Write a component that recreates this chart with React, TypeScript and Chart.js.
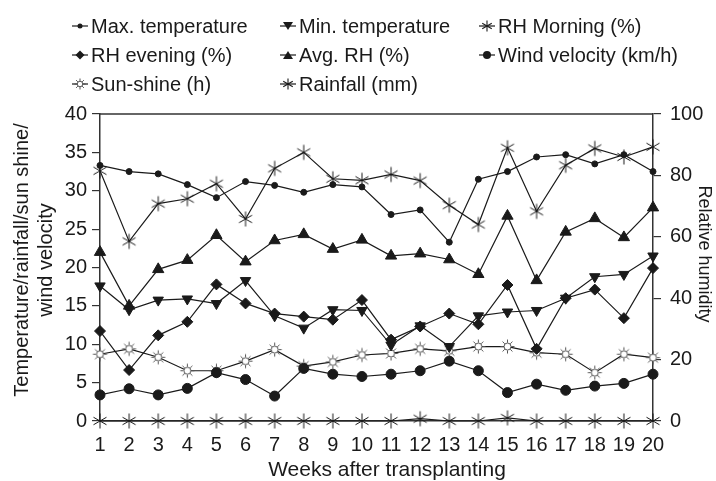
import { useEffect, useRef } from "react";
import { Chart, registerables } from "chart.js";

Chart.register(...registerables);

const weeks = ["1", "2", "3", "4", "5", "6", "7", "8", "9", "10", "11", "12", "13", "14", "15", "16", "17", "18", "19", "20"];

const maxTemp = [33.3, 32.5, 32.2, 30.8, 29.1, 31.2, 30.7, 29.8, 30.8, 30.5, 26.9, 27.5, 23.3, 31.5, 32.5, 34.4, 34.7, 33.5, 34.7, 32.5];
const minTemp = [17.6, 14.5, 15.75, 15.9, 15.3, 18.3, 13.7, 12.1, 14.5, 14.4, 9.9, 12.4, 9.7, 13.7, 14.2, 14.4, 16.0, 18.8, 19.1, 21.5];
const rhMorning = [81.5, 58.5, 70.8, 72.4, 77.3, 65.8, 82.3, 87.5, 78.9, 78.4, 80.3, 78.3, 70.3, 64.0, 89.0, 68.3, 83.3, 88.8, 86.0, 89.3];
const rhEvening = [29.3, 16.6, 27.9, 32.3, 44.5, 38.3, 35.0, 34.0, 33.0, 39.4, 26.5, 30.8, 35.0, 31.5, 44.3, 23.5, 40.0, 42.8, 33.5, 49.8];
const avgRH = [55.0, 37.5, 49.4, 52.4, 60.5, 51.9, 58.8, 60.8, 56.0, 59.0, 53.8, 54.5, 52.6, 47.8, 66.8, 45.8, 61.6, 66.0, 59.8, 69.5];
const windVelocity = [3.4, 4.2, 3.4, 4.25, 6.3, 5.4, 3.25, 6.85, 6.1, 5.8, 6.1, 6.55, 7.8, 6.55, 3.7, 4.8, 4.0, 4.55, 4.9, 6.1];
const sunShine = [8.7, 9.4, 8.3, 6.55, 6.55, 7.8, 9.3, 7.15, 7.7, 8.6, 8.8, 9.4, 9.15, 9.7, 9.7, 8.9, 8.7, 6.3, 8.7, 8.25];
const rainfall = [0, 0, 0, 0, 0, 0, 0, 0, 0, 0, 0, 0.3, 0, 0, 0.4, 0, 0, 0, 0, 0];

const leftAxisTitle = ["Temperature/rainfall/sun shine/", "wind velocity"];
const rightAxisTitle = "Relative humidity";
const xAxisTitle = "Weeks after transplanting";

const INK = "#1a1a1a";
const FONT = "'Liberation Sans', Arial, Helvetica, sans-serif";

function makeAsterisk(r: number, lw: number): HTMLCanvasElement {
  const size = Math.ceil(r * 2 + 3);
  const c = document.createElement("canvas");
  c.width = size;
  c.height = size;
  const ctx = c.getContext("2d")!;
  ctx.strokeStyle = INK;
  ctx.lineWidth = lw;
  const m = size / 2;
  for (let k = 0; k < 3; k++) {
    const a = Math.PI / 2 + (k * Math.PI) / 3;
    ctx.beginPath();
    ctx.moveTo(m + r * Math.cos(a), m + r * Math.sin(a));
    ctx.lineTo(m - r * Math.cos(a), m - r * Math.sin(a));
    ctx.stroke();
  }
  return c;
}

function makeSun(r: number): HTMLCanvasElement {
  const size = Math.ceil(r * 2 + 3);
  const c = document.createElement("canvas");
  c.width = size;
  c.height = size;
  const ctx = c.getContext("2d")!;
  const m = size / 2;
  ctx.strokeStyle = "#555";
  ctx.lineWidth = 1;
  for (let k = 0; k < 8; k++) {
    const a = (k * Math.PI) / 4;
    ctx.beginPath();
    ctx.moveTo(m + r * 0.55 * Math.cos(a), m + r * 0.55 * Math.sin(a));
    ctx.lineTo(m + r * Math.cos(a), m + r * Math.sin(a));
    ctx.stroke();
  }
  ctx.beginPath();
  ctx.arc(m, m, r * 0.5, 0, Math.PI * 2);
  ctx.fillStyle = "#fff";
  ctx.fill();
  ctx.stroke();
  return c;
}

function drawLegendMarker(ctx: CanvasRenderingContext2D, kind: string, x: number, y: number, imgs: Record<string, HTMLCanvasElement>) {
  ctx.save();
  ctx.strokeStyle = INK;
  ctx.fillStyle = INK;
  ctx.lineWidth = 1.2;
  ctx.beginPath();
  ctx.moveTo(x - 8, y);
  ctx.lineTo(x + 8, y);
  ctx.stroke();
  ctx.beginPath();
  if (kind === "dot") {
    ctx.arc(x, y, 2.5, 0, Math.PI * 2);
    ctx.fill();
  } else if (kind === "circle") {
    ctx.arc(x, y, 4, 0, Math.PI * 2);
    ctx.fill();
  } else if (kind === "down") {
    ctx.moveTo(x - 5, y - 4);
    ctx.lineTo(x + 5, y - 4);
    ctx.lineTo(x, y + 4);
    ctx.closePath();
    ctx.fill();
  } else if (kind === "up") {
    ctx.moveTo(x - 5, y + 4);
    ctx.lineTo(x + 5, y + 4);
    ctx.lineTo(x, y - 4);
    ctx.closePath();
    ctx.fill();
  } else if (kind === "diamond") {
    ctx.moveTo(x, y - 4.5);
    ctx.lineTo(x + 4.5, y);
    ctx.lineTo(x, y + 4.5);
    ctx.lineTo(x - 4.5, y);
    ctx.closePath();
    ctx.fill();
  } else if (imgs[kind]) {
    const im = imgs[kind];
    ctx.drawImage(im, x - im.width / 2, y - im.height / 2);
  }
  ctx.restore();
}

export default function App() {
  const canvasRef = useRef<HTMLCanvasElement | null>(null);

  useEffect(() => {
    const canvas = canvasRef.current;
    if (!canvas) return;
    const star = makeAsterisk(7.5, 1);
    const sun = makeSun(7);
    const legendImgs: Record<string, HTMLCanvasElement> = {
      star: makeAsterisk(5.5, 1.1),
      sun: makeSun(5.5),
    };

    const legendItems = [
      { label: "Max. temperature", kind: "dot", col: 0, row: 0 },
      { label: "Min. temperature", kind: "down", col: 1, row: 0 },
      { label: "RH Morning (%)", kind: "star", col: 2, row: 0 },
      { label: "RH evening (%)", kind: "diamond", col: 0, row: 1 },
      { label: "Avg. RH (%)", kind: "up", col: 1, row: 1 },
      { label: "Wind velocity (km/h)", kind: "circle", col: 2, row: 1 },
      { label: "Sun-shine (h)", kind: "sun", col: 0, row: 2 },
      { label: "Rainfall (mm)", kind: "star", col: 1, row: 2 },
    ];
    const colX = [80, 288, 487];
    const rowY = [26, 55, 84];

    const decorPlugin = {
      id: "decor",
      afterDraw(chart: any) {
        const ctx = chart.ctx as CanvasRenderingContext2D;
        const a = chart.chartArea;
        ctx.save();
        // legend
        ctx.font = `20px ${FONT}`;
        ctx.textBaseline = "middle";
        ctx.textAlign = "left";
        legendItems.forEach((it) => {
          const x = colX[it.col];
          const y = rowY[it.row];
          drawLegendMarker(ctx, it.kind, x, y, legendImgs);
          ctx.fillStyle = INK;
          ctx.fillText(it.label, x + 11, y + 1);
        });
        // top frame line
        ctx.strokeStyle = "#333";
        ctx.lineWidth = 1.5;
        ctx.beginPath();
        ctx.moveTo(a.left, a.top);
        ctx.lineTo(a.right, a.top);
        ctx.stroke();
        // axis titles
        ctx.fillStyle = INK;
        ctx.textAlign = "center";
        ctx.textBaseline = "middle";
        ctx.font = `20px ${FONT}`;
        ctx.save();
        ctx.translate(22, 260);
        ctx.rotate(-Math.PI / 2);
        ctx.fillText(leftAxisTitle[0], 0, 0);
        ctx.restore();
        ctx.save();
        ctx.translate(46, 260);
        ctx.rotate(-Math.PI / 2);
        ctx.fillText(leftAxisTitle[1], 0, 0);
        ctx.restore();
        ctx.font = `18px ${FONT}`;
        ctx.save();
        ctx.translate(704, 254);
        ctx.rotate(Math.PI / 2);
        ctx.fillText(rightAxisTitle, 0, 0);
        ctx.restore();
        ctx.font = `21px ${FONT}`;
        ctx.fillText(xAxisTitle, 387, 470);
        ctx.restore();
      },
    };

    const common = {
      borderColor: INK,
      backgroundColor: INK,
      pointBackgroundColor: INK,
      pointBorderColor: INK,
      borderWidth: 1.2,
      pointBorderWidth: 1,
      clip: false as const,
      tension: 0,
    };

    const chart = new Chart(canvas, {
      type: "line",
      data: {
        labels: weeks,
        datasets: [
          { ...common, label: "Max. temperature", data: maxTemp, yAxisID: "y", pointStyle: "circle", pointRadius: 3 },
          { ...common, label: "Min. temperature", data: minTemp, yAxisID: "y", pointStyle: "triangle", pointRotation: 180, pointRadius: 6 },
          { ...common, label: "RH Morning (%)", data: rhMorning, yAxisID: "y1", pointStyle: star, pointRadius: 7 },
          { ...common, label: "RH evening (%)", data: rhEvening, yAxisID: "y1", pointStyle: "rectRot", pointRadius: 5.5 },
          { ...common, label: "Avg. RH (%)", data: avgRH, yAxisID: "y1", pointStyle: "triangle", pointRadius: 6.5 },
          { ...common, label: "Wind velocity (km/h)", data: windVelocity, yAxisID: "y", pointStyle: "circle", pointRadius: 5 },
          { ...common, label: "Sun-shine (h)", data: sunShine, yAxisID: "y", pointStyle: sun, pointRadius: 7 },
          { ...common, label: "Rainfall (mm)", data: rainfall, yAxisID: "y", pointStyle: star, pointRadius: 7 },
        ],
      },
      options: {
        animation: false,
        responsive: false,
        devicePixelRatio: 1,
        layout: { padding: { top: 114, left: 0, right: 0, bottom: 0 } },
        plugins: { legend: { display: false }, tooltip: { enabled: false } },
        scales: {
          x: {
            type: "category",
            offset: false,
            afterFit: (axis: any) => {
              axis.height = 60;
            },
            grid: { display: true, drawOnChartArea: false, drawTicks: false },
            border: { display: true, color: "#333", width: 1.5 },
            ticks: { autoSkip: false, maxRotation: 0, padding: 12, color: INK, font: { size: 20, family: FONT } },
            title: { display: false, text: xAxisTitle },
          },
          y: {
            position: "left",
            min: 0,
            max: 40,
            afterFit: (axis: any) => {
              axis.width = 100;
            },
            grid: { display: true, drawOnChartArea: false, drawTicks: true, tickLength: 8, color: "#333", lineWidth: 1.2 },
            border: { display: true, color: "#333", width: 1.5 },
            ticks: { stepSize: 5, padding: 5, color: INK, font: { size: 20, family: FONT } },
            title: { display: false, text: leftAxisTitle },
          },
          y1: {
            position: "right",
            min: 0,
            max: 100,
            afterFit: (axis: any) => {
              axis.width = 63;
            },
            grid: { display: true, drawOnChartArea: false, drawTicks: true, tickLength: 8, color: "#333", lineWidth: 1.2 },
            border: { display: true, color: "#333", width: 1.5 },
            ticks: { stepSize: 20, padding: 9, color: INK, font: { size: 20, family: FONT } },
            title: { display: false, text: rightAxisTitle },
          },
        },
      },
      plugins: [decorPlugin],
    });

    return () => {
      chart.destroy();
    };
  }, []);

  return (
    <div style={{ position: "absolute", left: 0, top: 0, width: 716, height: 481, background: "#fff" }}>
      <canvas ref={canvasRef} width={716} height={481} style={{ display: "block", width: 716, height: 481 }} />
    </div>
  );
}
